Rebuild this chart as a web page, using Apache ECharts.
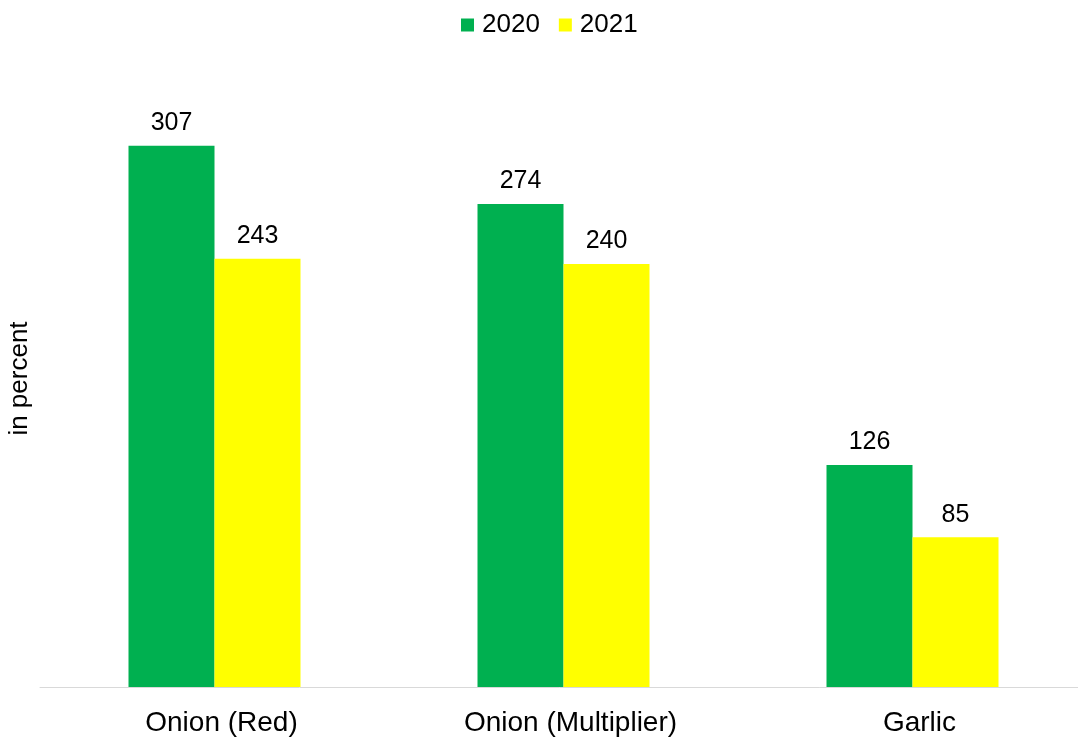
<!DOCTYPE html>
<html>
<head>
<meta charset="utf-8">
<script src="https://cdn.jsdelivr.net/npm/echarts@6/dist/echarts.min.js"></script>
<style>
  html, body { margin: 0; padding: 0; background: #fff; }
  #chart { width: 1078px; height: 744px; }
</style>
</head>
<body>
<div id="chart"></div>
<script>
// data
var categories = ["Onion (Red)", "Onion (Multiplier)", "Garlic"];
var seriesNames = ["2020", "2021"];
var values2020 = [307, 274, 126];
var values2021 = [243, 240, 85];

var myChart = echarts.init(document.getElementById("chart"));

var labelStyle = {
  show: true,
  position: "top",
  distance: 10,
  color: "#000",
  fontSize: 25,
  fontFamily: "Liberation Sans, Arial, sans-serif"
};

var option = {
  animation: false,
  textStyle: { fontFamily: "Liberation Sans, Arial, sans-serif" },
  legend: {
    top: 12,
    left: 461,
    padding: 0,
    itemWidth: 13,
    itemHeight: 13,
    itemGap: 19,
    icon: "rect",
    textStyle: { fontSize: 26, color: "#000", padding: [0, 0, 0, 3] },
    data: seriesNames
  },
  grid: {
    left: 40,
    right: -9,
    top: 70,
    bottom: 57,
    containLabel: false,
    outerBoundsMode: "none"
  },
  xAxis: {
    type: "category",
    data: categories,
    axisLine: { lineStyle: { color: "#d9d9d9", width: 1 } },
    axisTick: { show: false },
    axisLabel: { color: "#000", fontSize: 28, margin: 22, padding: [0, 0, 0, 14] }
  },
  yAxis: {
    type: "value",
    min: 0,
    max: 350,
    name: "in percent",
    nameLocation: "middle",
    nameRotate: 90,
    nameGap: 7,
    nameTextStyle: { color: "#000", fontSize: 26 },
    axisLine: { show: false },
    axisTick: { show: false },
    axisLabel: { show: false },
    splitLine: { show: false }
  },
  series: [
    {
      name: seriesNames[0],
      type: "bar",
      data: values2020,
      barWidth: 86,
      barGap: "0%",
      itemStyle: { color: "#00B050" },
      label: labelStyle
    },
    {
      name: seriesNames[1],
      type: "bar",
      data: values2021,
      barWidth: 86,
      barGap: "0%",
      itemStyle: { color: "#FFFF00" },
      label: labelStyle
    }
  ]
};

myChart.setOption(option);
</script>
</body>
</html>
